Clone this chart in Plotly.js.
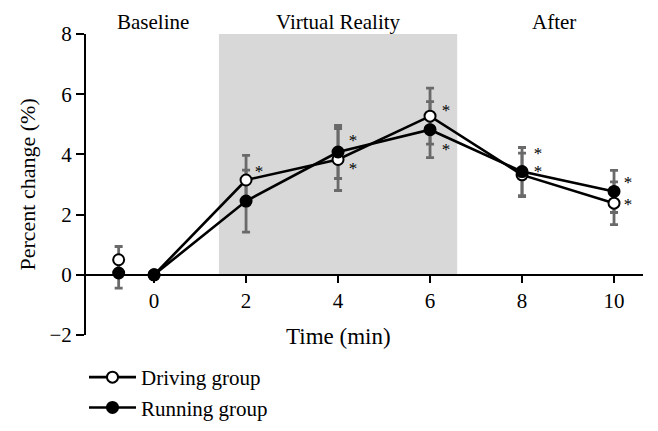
<!DOCTYPE html>
<html>
<head>
<meta charset="utf-8">
<script src="https://cdn.plot.ly/plotly-3.0.1.min.js"></script>
<style>html,body{margin:0;padding:0;background:#fff;}#chart{width:658px;height:431px;}</style>
</head>
<body>
<div id="chart"></div>
<script>
// ---- data ----
const timeMain = [0, 2, 4, 6, 8, 10];
const baselineTime = [-0.77];
const drivingBaseline = [0.5];
const drivingBaselineErr = [0.44];
const runningBaseline = [0.06];
const runningBaselineErr = [0.5];
const driving = [0, 3.15, 3.83, 5.27, 3.32, 2.38];
const drivingErr = [0, 0.82, 1.03, 0.93, 0.72, 0.71];
const running = [0, 2.45, 4.08, 4.82, 3.43, 2.77];
const runningErr = [0, 1.03, 0.88, 0.93, 0.8, 0.7];
const drivingStar = [false, true, true, true, true, true];
const runningStar = [false, false, true, true, true, true];
const phaseLabels = ['Baseline', 'Virtual Reality', 'After'];
const phaseCenters = [-0.03, 4, 8.7];
const vrStart = 1.41, vrEnd = 6.59;
const xTicks = [0, 2, 4, 6, 8, 10];
const yTicks = [-2, 0, 2, 4, 6, 8];

// ---- styles ----
const FONT = 'Liberation Serif, Times New Roman, serif';
const errStyle = (arr) => ({type: 'data', array: arr, visible: true, color: '#6a6a6a', thickness: 2.8, width: 4});
const openMarker = {symbol: 'circle', size: 11, color: '#ffffff', line: {color: '#000', width: 2}};
const fillMarker = {symbol: 'circle', size: 11, color: '#000000', line: {color: '#000', width: 2}};
const hidden = {size: 1, color: 'rgba(0,0,0,0)'};

const traces = [
  {x: timeMain, y: driving, mode: 'markers', marker: hidden, error_y: errStyle(drivingErr), showlegend: false, hoverinfo: 'skip'},
  {x: timeMain, y: running, mode: 'markers', marker: hidden, error_y: errStyle(runningErr), showlegend: false, hoverinfo: 'skip'},
  {x: baselineTime, y: drivingBaseline, mode: 'markers', marker: hidden, error_y: errStyle(drivingBaselineErr), showlegend: false, hoverinfo: 'skip'},
  {x: baselineTime, y: runningBaseline, mode: 'markers', marker: hidden, error_y: errStyle(runningBaselineErr), showlegend: false, hoverinfo: 'skip'},
  {x: baselineTime, y: drivingBaseline, mode: 'markers', marker: openMarker, showlegend: false},
  {x: baselineTime, y: runningBaseline, mode: 'markers', marker: fillMarker, showlegend: false},
  {x: timeMain, y: driving, name: 'Driving group', mode: 'lines+markers', line: {color: '#000', width: 2.6}, marker: openMarker},
  {x: timeMain, y: running, name: 'Running group', mode: 'lines+markers', line: {color: '#000', width: 2.6}, marker: fillMarker}
];

// star offsets (pixels) relative to each point
const drivingStarShift = [0, 12, -5, 9, 7, 2];
const runningStarShift = [0, 0, 15, -16, 22, 12];
const starXShift = [0, 13, 15, 16, 16, 14];
const glyphCorr = -3;

const annotations = [];
phaseLabels.forEach((t, i) => annotations.push({
  text: t, x: phaseCenters[i], xref: 'x', y: 1, yref: 'paper', yanchor: 'middle', yshift: 12,
  showarrow: false, font: {family: FONT, size: 21, color: '#000'}
}));
annotations.push({
  text: 'Time (min)', x: 4, xref: 'x', y: 0, yref: 'paper', yanchor: 'middle', yshift: -1,
  showarrow: false, font: {family: FONT, size: 23, color: '#000'}
});
annotations.push({
  text: 'Percent change (%)', textangle: -90, x: (27 - 86) / 557, xref: 'paper', xanchor: 'center',
  y: 0.5, yref: 'paper', yanchor: 'middle', showarrow: false, font: {family: FONT, size: 22, color: '#000'}
});
const starFont = {family: FONT, size: 17, color: '#000'};
timeMain.forEach((t, i) => {
  if (drivingStar[i]) annotations.push({text: '*', x: t, y: driving[i], xref: 'x', yref: 'y', showarrow: false,
    height: 10, width: 10, borderpad: 0, xshift: starXShift[i], yshift: drivingStarShift[i] + glyphCorr, font: starFont});
  if (runningStar[i]) annotations.push({text: '*', x: t, y: running[i], xref: 'x', yref: 'y', showarrow: false,
    height: 10, width: 10, borderpad: 0, xshift: starXShift[i], yshift: runningStarShift[i] + glyphCorr, font: starFont});
});

const layout = {
  width: 658, height: 431,
  margin: {l: 86, r: 15, t: 34, b: 96, autoexpand: false},
  paper_bgcolor: '#fff', plot_bgcolor: 'rgba(0,0,0,0)',
  font: {family: FONT, size: 20, color: '#000'},
  showlegend: true,
  legend: {x: 84 / 658, xref: 'container', xanchor: 'left', y: (431 - 357) / 431, yref: 'container', yanchor: 'top',
    orientation: 'v', itemwidth: 47,
    font: {family: FONT, size: 21, color: '#000'}, tracegroupgap: 0, bgcolor: 'rgba(0,0,0,0)'},
  xaxis: {range: [-1.48, 10.63], anchor: 'free', position: 0.2, showline: true, linecolor: '#000', linewidth: 2,
    ticks: 'outside', ticklen: 7, tickwidth: 2, tickcolor: '#000', tickvals: xTicks, ticktext: xTicks.map(String),
    showgrid: false, zeroline: false, tickfont: {family: FONT, size: 21, color: '#000'}},
  yaxis: {range: [-2, 8], showline: true, linecolor: '#000', linewidth: 2,
    ticks: 'outside', ticklen: 8, tickwidth: 2, tickcolor: '#000', tickvals: yTicks,
    showgrid: false, zeroline: false, tickfont: {family: FONT, size: 21, color: '#000'}},
  shapes: [{type: 'rect', xref: 'x', yref: 'y', x0: vrStart, x1: vrEnd, y0: 0, y1: 8,
    fillcolor: '#d8d8d8', line: {width: 0}, layer: 'below'}],
  annotations: annotations
};

Plotly.newPlot('chart', traces, layout, {displayModeBar: false, staticPlot: true});
</script>
</body>
</html>
